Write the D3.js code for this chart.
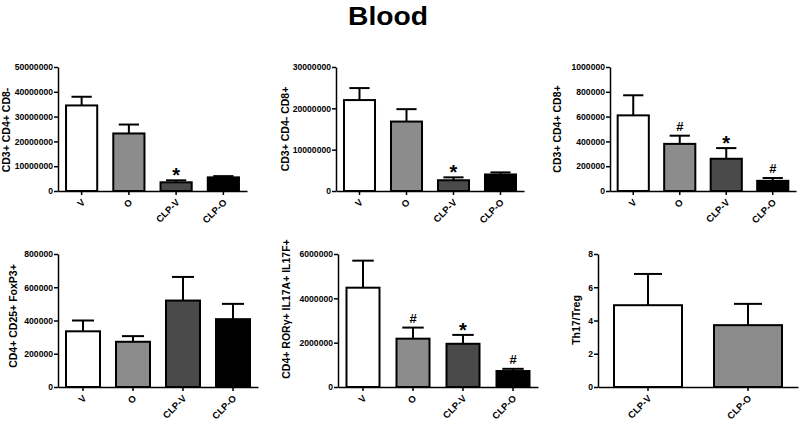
<!DOCTYPE html>
<html><head><meta charset="utf-8">
<script src="https://cdn.jsdelivr.net/npm/d3@7"></script>
<style>body{margin:0;background:#fff}svg{display:block;font-family:"Liberation Sans",Arial,sans-serif}</style>
</head><body><svg id="c" width="800" height="424"></svg>
<script>
const groups4 = ["V","O","CLP-V","CLP-O"];
const groups2 = ["CLP-V","CLP-O"];
const colors4 = ["#ffffff","#8c8c8c","#4a4a4a","#000000"];
const colors2 = ["#ffffff","#8c8c8c"];

const p1Mean = [34500000, 23200000, 3500000, 5500000];
const p1Err  = [38000000, 26800000, 4300000, 6000000];
const p1Mark = ["","","*",""];
const p1Ticks = [0,10000000,20000000,30000000,40000000,50000000];

const p2Mean = [22000000, 16800000, 2600000, 4000000];
const p2Err  = [24900000, 19800000, 3300000, 4500000];
const p2Mark = ["","","*",""];
const p2Ticks = [0,10000000,20000000,30000000];

const p3Mean = [610000, 380000, 260000, 82000];
const p3Err  = [772000, 446000, 346000, 105000];
const p3Mark = ["","#","*","#"];
const p3Ticks = [0,200000,400000,600000,800000,1000000];

const p4Mean = [335000, 272000, 520000, 408000];
const p4Err  = [400000, 306000, 662000, 500000];
const p4Mark = ["","","",""];
const p4Ticks = [0,200000,400000,600000,800000];

const p5Mean = [4480000, 2180000, 1950000, 720000];
const p5Err  = [5700000, 2680000, 2350000, 820000];
const p5Mark = ["","#","*","#"];
const p5Ticks = [0,2000000,4000000,6000000];

const p6Mean = [4.92, 3.72];
const p6Err  = [6.8, 5.0];
const p6Mark = ["",""];
const p6Ticks = [0,2,4,6,8];

const titles = ["CD3+ CD4+ CD8-","CD3+ CD4- CD8+","CD3+ CD4+ CD8+","CD4+ CD25+ FoxP3+","CD4+ RORγ+ IL17A+ IL17F+","Th17/Treg"];

const svg = d3.select("#c");
svg.append("text").attr("x",388).attr("y",24.5).attr("text-anchor","middle")
  .attr("font-size",26.5).attr("font-weight","bold")
  .attr("textLength",80).attr("lengthAdjust","spacingAndGlyphs").text("Blood");

const panels = [
 {g:groups4,c:colors4,m:p1Mean,e:p1Err,k:p1Mark,t:p1Ticks,x:[58,247],y:[191,67],bw:0.66,tx:10,ty:130,title:titles[0]},
 {g:groups4,c:colors4,m:p2Mean,e:p2Err,k:p2Mark,t:p2Ticks,x:[336,524],y:[191,67],bw:0.66,tx:289,ty:129,title:titles[1]},
 {g:groups4,c:colors4,m:p3Mean,e:p3Err,k:p3Mark,t:p3Ticks,x:[610,796],y:[191,67],bw:0.67,tx:561,ty:129,title:titles[2]},
 {g:groups4,c:colors4,m:p4Mean,e:p4Err,k:p4Mark,t:p4Ticks,x:[58,258],y:[387,254],bw:0.68,tx:17,ty:316,title:titles[3]},
 {g:groups4,c:colors4,m:p5Mean,e:p5Err,k:p5Mark,t:p5Ticks,x:[338,538],y:[387,254],bw:0.66,tx:290,ty:309,title:titles[4]},
 {g:groups2,c:colors2,m:p6Mean,e:p6Err,k:p6Mark,t:p6Ticks,x:[598,798],y:[387,254],bw:0.68,tx:580,ty:320,title:titles[5]},
];

panels.forEach(p=>{
  const x = d3.scaleBand().domain(p.g).range(p.x);
  const y = d3.scaleLinear().domain([0,d3.max(p.t)]).range(p.y);
  const g = svg.append("g");
  const bw = x.step()*p.bw;
  const capW = Math.min(bw*0.65, 28);
  p.g.forEach((name,i)=>{
    const cx = x(name)+x.step()/2;
    g.append("line").attr("x1",cx).attr("x2",cx).attr("y1",y(p.m[i])).attr("y2",y(p.e[i]))
      .attr("stroke","#000").attr("stroke-width",2);
    g.append("line").attr("x1",cx-capW/2).attr("x2",cx+capW/2).attr("y1",y(p.e[i])).attr("y2",y(p.e[i]))
      .attr("stroke","#000").attr("stroke-width",2);
    g.append("rect").attr("x",cx-bw/2).attr("width",bw).attr("y",y(p.m[i])).attr("height",y(0)-y(p.m[i]))
      .attr("fill",p.c[i]).attr("stroke","#000").attr("stroke-width",2);
    if(p.k[i]){
      const star = p.k[i]==="*";
      g.append("text").attr("x",cx).attr("y",y(p.e[i]) - (star? -2 : 5))
        .attr("text-anchor","middle").attr("font-weight","bold")
        .attr("font-size",star?20:13).text(p.k[i]);
    }
  });
  const ya = d3.axisLeft(y).tickValues(p.t).tickSize(4).tickSizeOuter(0).tickFormat(d3.format("d"));
  const yg = g.append("g").attr("transform",`translate(${p.x[0]},0)`).call(ya);
  yg.select(".domain").attr("stroke-width",1.5);
  yg.selectAll(".tick line").attr("stroke-width",1.5);
  yg.selectAll("text").attr("font-size",8.6).attr("font-weight","bold").attr("fill","#000")
    .attr("font-family","Liberation Sans, Arial, sans-serif").attr("x",-5);
  const xa = d3.axisBottom(x).tickSize(4).tickSizeOuter(0);
  const xg = g.append("g").attr("transform",`translate(0,${p.y[0]})`).call(xa);
  xg.select(".domain").attr("stroke-width",1.5);
  xg.selectAll(".tick line").attr("stroke-width",1.5);
  xg.selectAll("text").attr("font-size",9.5).attr("font-weight","bold").attr("fill","#000")
    .attr("font-family","Liberation Sans, Arial, sans-serif")
    .attr("text-anchor","end").attr("dy",null).attr("y",0).attr("x",0)
    .attr("transform","translate(4,12) rotate(-45)");
  svg.append("text").attr("transform",`translate(${p.tx},${p.ty}) rotate(-90)`)
    .attr("text-anchor","middle").attr("font-size",10.5).attr("font-weight","bold").text(p.title);
});
</script></body></html>
